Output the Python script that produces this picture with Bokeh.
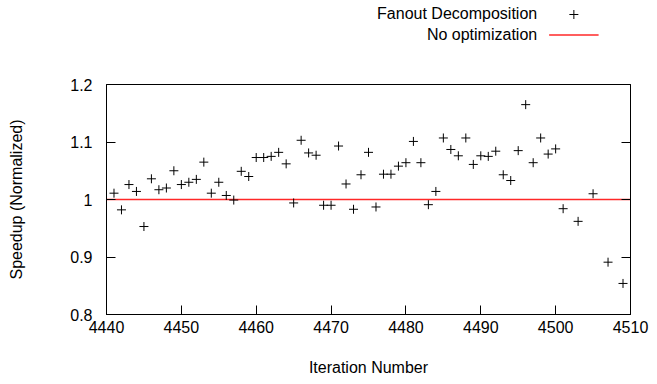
from bokeh.plotting import figure
from bokeh.layouts import column
from bokeh.models import Label, LinearAxis, FixedTicker, Range1d
from bokeh.embed import file_html
from bokeh.resources import INLINE

iterations = list(range(4441, 4502)) + [4503, 4505, 4507, 4509]
speedup = [1.011, 0.982, 1.026, 1.014, 0.953, 1.036, 1.017, 1.020, 1.050, 1.026,
           1.030, 1.035, 1.065, 1.011, 1.030, 1.007, 0.999, 1.049, 1.040, 1.073,
           1.073, 1.075, 1.082, 1.062, 0.994, 1.103, 1.081, 1.077, 0.990, 0.990,
           1.093, 1.027, 0.983, 1.043, 1.082, 0.987, 1.044, 1.044, 1.058, 1.064,
           1.101, 1.064, 0.991, 1.014, 1.107, 1.087, 1.076, 1.107, 1.061, 1.076,
           1.075, 1.084, 1.043, 1.033, 1.085, 1.165, 1.064, 1.107, 1.079, 1.088,
           0.984, 0.962, 1.010, 0.891, 0.854]
baseline_x = [4440, 4510]
baseline_y = [1.0, 1.0]
x_ticks = [4440, 4450, 4460, 4470, 4480, 4490, 4500, 4510]
y_ticks = [0.8, 0.9, 1, 1.1, 1.2]
y_tick_labels = {0.8: "0.8", 0.9: "0.9", 1: "1", 1.1: "1.1", 1.2: "1.2"}
series_names = ["Fanout Decomposition", "No optimization"]

FONT = "Liberation Sans"
FS = "16px"
RED = "#ff2828"
LEG_H = 60

# ---- main plot ----
p = figure(width=657, height=384 - LEG_H, output_backend="svg", toolbar_location=None,
           x_range=Range1d(4440, 4510), y_range=Range1d(0.8, 1.2),
           min_border_left=106, min_border_right=27, min_border_top=84 - LEG_H,
           min_border_bottom=70)
p.grid.visible = False
p.outline_line_color = "black"
p.outline_line_width = 1
p.background_fill_color = "white"
p.border_fill_color = "white"

p.line(baseline_x, baseline_y, line_color=RED, line_width=1.5)
p.scatter(iterations, speedup, marker="cross", size=9, line_color="black", line_width=1)

for ax in [p.xaxis[0], p.yaxis[0]]:
    ax.major_tick_in = 9
    ax.major_tick_out = 0
    ax.minor_tick_line_color = None
    ax.axis_line_color = "black"
    ax.major_label_text_font = FONT
    ax.major_label_text_font_size = FS
    ax.major_label_text_color = "black"
    ax.axis_label_text_font = FONT
    ax.axis_label_text_font_size = FS
    ax.axis_label_text_font_style = "normal"
    ax.axis_label_text_color = "black"

p.xaxis[0].ticker = FixedTicker(ticks=x_ticks)
p.xaxis[0].major_label_standoff = 6
p.xaxis[0].axis_label = "Iteration Number"
p.xaxis[0].axis_label_standoff = 23

p.yaxis[0].ticker = FixedTicker(ticks=y_ticks)
p.yaxis[0].major_label_overrides = y_tick_labels
p.yaxis[0].major_label_standoff = 14
p.yaxis[0].axis_label = "Speedup (Normalized)"
p.yaxis[0].axis_label_standoff = 42

right = LinearAxis(ticker=FixedTicker(ticks=y_ticks), major_tick_in=9, major_tick_out=0,
                   minor_tick_line_color=None, major_label_text_color=None,
                   major_label_text_font_size="12px",
                   axis_line_color="black", major_label_standoff=0)
p.add_layout(right, "right")

# ---- legend strip (pixel coordinates: label on the left, key on the right) ----
lg = figure(width=657, height=LEG_H, output_backend="svg", toolbar_location=None,
            x_range=Range1d(0, 657), y_range=Range1d(0, LEG_H),
            x_axis_type=None, y_axis_type=None,
            min_border_left=0, min_border_right=0, min_border_top=0, min_border_bottom=0)
lg.grid.visible = False
lg.outline_line_color = None
lg.background_fill_color = "white"
lg.border_fill_color = "white"

LABEL_RIGHT = 540
KEY_X0, KEY_X1 = 555, 617
ROW_Y = [LEG_H - 14, LEG_H - 34.5]

lg.scatter(x=[(KEY_X0 + KEY_X1) / 2], y=[ROW_Y[0]], marker="cross", size=9,
           line_color="black", line_width=1)
lg.line(x=[KEY_X0, KEY_X1], y=[ROW_Y[1], ROW_Y[1]], line_color=RED, line_width=1.5)

for name, yv in zip(series_names, [LEG_H - 13, LEG_H - 33.5]):
    lg.add_layout(Label(x=LABEL_RIGHT, y=yv, text=name, text_align="right",
                        text_baseline="middle", text_font=FONT, text_font_size=FS,
                        text_color="black"))

layout = column(lg, p, spacing=0)
open("out.html", "w").write(file_html(layout, INLINE))
